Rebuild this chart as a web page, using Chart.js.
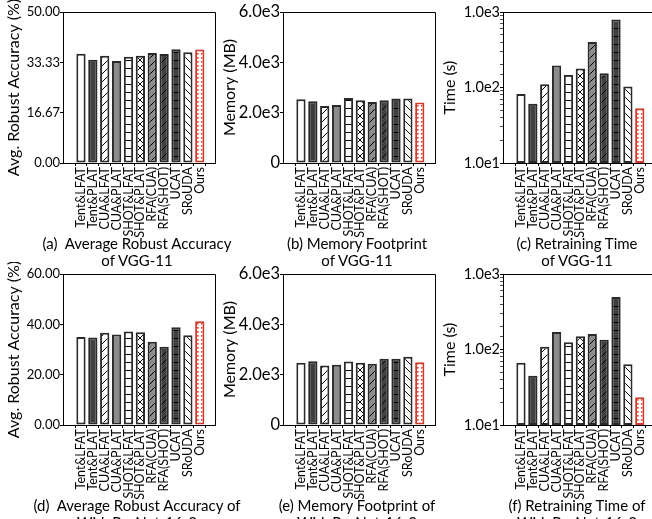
<!DOCTYPE html>
<html>
<head>
<meta charset="utf-8">
<script src="https://cdn.jsdelivr.net/npm/chart.js@4.4.1/dist/chart.umd.min.js"></script>
<style>
  html, body { margin: 0; padding: 0; background: #fff; }
  body { width: 652px; height: 519px; position: relative; overflow: hidden; font-family: Lato, sans-serif; }
  canvas.panel { position: absolute; }
  .caption { position: absolute; width: 260px; text-align: center; font-size: 15px; line-height: 17px; color: #000; white-space: pre; }
</style>
</head>
<body>
<script>
const methods = ['Tent&LFAT', 'Tent&PLAT', 'CUA&LFAT', 'CUA&PLAT', 'SHOT&LFAT', 'SHOT&PLAT',
                 'RFA(CUA)', 'RFA(SHOT)', 'UCAT', 'SRoUDA', 'Ours'];

// VGG-11
const vggAcc  = [36.2, 34.2, 35.5, 33.8, 35.2, 35.5, 36.4, 36.1, 37.7, 36.7, 37.6];
const vggMem  = [2530, 2450, 2265, 2305, 2585, 2490, 2425, 2490, 2560, 2560, 2400];
const vggTime = [82, 61, 110, 195, 148, 178, 402, 155, 798, 103, 53];

// WideResNet-16-2
const wrnAcc  = [35.0, 34.8, 36.7, 36.0, 37.2, 36.9, 33.1, 31.1, 38.8, 35.7, 41.2];
const wrnMem  = [2470, 2530, 2360, 2390, 2520, 2470, 2430, 2630, 2630, 2710, 2490];
const wrnTime = [67, 45, 109, 171, 125, 150, 161, 135, 497, 64, 23.3];

const accTicksVgg = [0, 16.67, 33.33, 50];
const accTicksWrn = [0, 20, 40, 60];
const memTicks = [0, 2000, 4000, 6000];

const captions = [
    ['(a)  Average Robust Accuracy', 'of VGG-11'],
    ['(b) Memory Footprint', 'of VGG-11'],
    ['(c) Retraining Time', 'of VGG-11'],
    ['(d)  Average Robust Accuracy of', 'WideResNet-16-2'],
    ['(e) Memory Footprint of', 'WideResNet-16-2'],
    ['(f) Retraining Time of', 'WideResNet-16-2']
];

// bar look per method
const fills   = ['#ffffff', '#404040', '#ffffff', '#8c8c8c', '#ffffff', '#ffffff',
                 '#8c8c8c', '#404040', '#404040', '#ffffff', '#ffffff'];
const hatches = ['', '', '/', '', '-', 'x', '/', '/', '-', '\\', '.'];
const edges   = methods.map(m => m === 'Ours' ? '#d03a2a' : '#2a2a2a');

function makeFill(base, hatch, ink) {
    if (!hatch) return base;
    const s = hatch === '.' ? 4 : 8;
    const c = document.createElement('canvas');
    c.width = s; c.height = s;
    const g = c.getContext('2d');
    g.fillStyle = base;
    g.fillRect(0, 0, s, s);
    g.strokeStyle = ink;
    g.fillStyle = ink;
    g.lineWidth = 1;
    g.beginPath();
    if (hatch === '/' || hatch === 'x') {
        g.moveTo(-1, s + 1); g.lineTo(s + 1, -1);
        g.moveTo(-1, 1); g.lineTo(1, -1);
        g.moveTo(s - 1, s + 1); g.lineTo(s + 1, s - 1);
    }
    if (hatch === '\\' || hatch === 'x') {
        g.moveTo(-1, -1); g.lineTo(s + 1, s + 1);
        g.moveTo(s - 1, -1); g.lineTo(s + 1, 1);
        g.moveTo(-1, s - 1); g.lineTo(1, s + 1);
    }
    if (hatch === '-') {
        g.moveTo(0, 4.5); g.lineTo(s, 4.5);
    }
    g.stroke();
    if (hatch === '.') {
        g.fillRect(1, 1, 1.6, 1.6);
    }
    return g.createPattern(c, 'repeat');
}

const barFills = methods.map((m, i) => makeFill(fills[i], hatches[i], m === 'Ours' ? '#d03a2a' : '#000'));

const sciLabel = v => v === 0 ? '0' : v.toExponential(1).replace('+', '');
const isPow10 = v => Math.abs(Math.log10(v) - Math.round(Math.log10(v))) < 1e-6;

const boxPlugin = {
    id: 'box',
    afterDraw(chart) {
        const a = chart.chartArea;
        const ctx = chart.ctx;
        ctx.save();
        ctx.strokeStyle = '#000';
        ctx.lineWidth = 1;
        ctx.beginPath();
        ctx.moveTo(Math.round(a.left) + 0.5, Math.round(a.top) + 0.5);
        ctx.lineTo(Math.round(a.right) + 0.5, Math.round(a.top) + 0.5);
        ctx.lineTo(Math.round(a.right) + 0.5, Math.round(a.bottom) + 0.5);
        ctx.stroke();
        ctx.restore();
    }
};

function linearY(min, max, tickVals, fmt) {
    return {
        type: 'linear', min: min, max: max,
        afterBuildTicks: s => { s.ticks = tickVals.map(v => ({ value: v })); },
        ticks: { callback: fmt }
    };
}

function logY() {
    return {
        type: 'logarithmic', min: 10, max: 1000,
        ticks: { autoSkip: false, callback: v => isPow10(v) ? '1.0e' + Math.round(Math.log10(v)) : '' }
    };
}

function makePanel(idx, values, yScale, yTitle, titlePad, tickSize) {
    const col = idx % 3, row = Math.floor(idx / 3);
    const canvas = document.createElement('canvas');
    canvas.className = 'panel';
    canvas.width = 232;
    canvas.height = 240;
    canvas.style.left = (col * 220) + 'px';
    canvas.style.top = (row * 262) + 'px';
    document.body.appendChild(canvas);

    const axisBits = {
        grid: { drawOnChartArea: false, drawTicks: true, tickLength: 3, color: '#000', tickColor: '#000' },
        border: { display: true, color: '#000', width: 1 }
    };

    const y = Object.assign({}, yScale, axisBits);
    y.afterFit = s => { s.width = 63; };
    y.ticks = Object.assign({ color: '#000', padding: 0, font: { family: 'Lato', size: tickSize } }, yScale.ticks);
    y.title = { display: true, text: yTitle, color: '#000', font: { family: 'Lato', size: 16 }, padding: { top: titlePad, bottom: 0 } };
    if (yScale.type === 'logarithmic') {
        y.grid = Object.assign({}, axisBits.grid, { tickWidth: c => (c.tick && isPow10(c.tick.value)) ? 1 : 0.7 });
    }

    new Chart(canvas, {
        type: 'bar',
        data: {
            datasets: [{
                data: values.map((v, i) => ({ x: i, y: v })),
                backgroundColor: barFills,
                borderColor: edges,
                borderWidth: 2,
                borderSkipped: false,
                categoryPercentage: 1,
                barPercentage: 0.78
            }]
        },
        options: {
            responsive: false,
            animation: false,
            devicePixelRatio: 1,
            layout: { padding: { left: 0, right: 17, top: 12, bottom: 0 } },
            plugins: { legend: { display: false }, tooltip: { enabled: false } },
            scales: {
                x: Object.assign({
                    type: 'linear', min: -0.93, max: 10.7,
                    afterBuildTicks: s => { s.ticks = methods.map((m, i) => ({ value: i })); },
                    afterFit: s => { s.height = 77; },
                    ticks: {
                        autoSkip: false, minRotation: 90, maxRotation: 90, padding: 1, color: '#000',
                        font: { family: 'Lato', size: 12.5 },
                        callback: v => methods[Math.round(v)]
                    }
                }, axisBits),
                y: y
            }
        },
        plugins: [boxPlugin]
    });

    const cap = document.createElement('div');
    cap.className = 'caption';
    cap.textContent = captions[idx].join('\n');
    const cx = [137, 357, 577][col];
    cap.style.left = (cx - 130) + 'px';
    cap.style.top = (234.5 + row * 262) + 'px';
    document.body.appendChild(cap);
}

makePanel(0, vggAcc, linearY(0, 50, accTicksVgg, v => v.toFixed(2)), 'Avg. Robust Accuracy (%)', 4.4, 13);
makePanel(1, vggMem, linearY(0, 6000, memTicks, sciLabel), 'Memory (MB)', 0, 16.5);
makePanel(2, vggTime, logY(), 'Time (s)', 0, 14.5);
makePanel(3, wrnAcc, linearY(0, 60, accTicksWrn, v => v.toFixed(2)), 'Avg. Robust Accuracy (%)', 4.4, 13);
makePanel(4, wrnMem, linearY(0, 6000, memTicks, sciLabel), 'Memory (MB)', 0, 16.5);
makePanel(5, wrnTime, logY(), 'Time (s)', 0, 14.5);
</script>
</body>
</html>
